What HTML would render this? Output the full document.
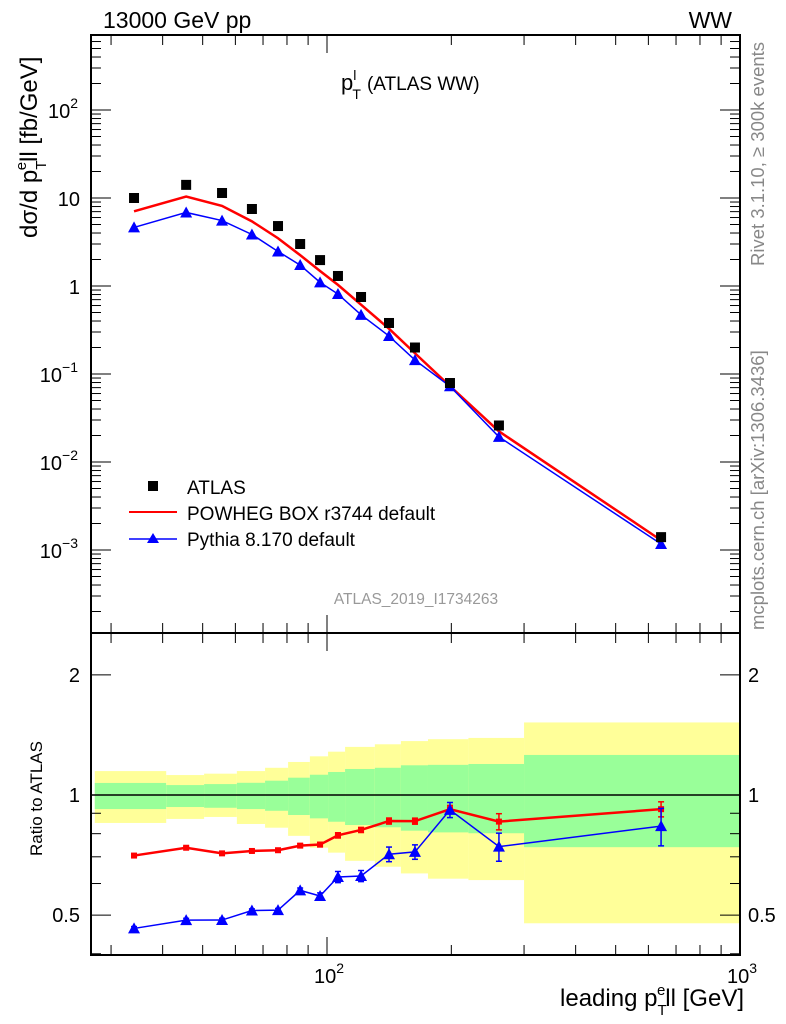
<!DOCTYPE html>
<html><head><meta charset="utf-8"><style>
body{margin:0;background:#fff;}
svg{display:block;font-family:"Liberation Sans",sans-serif;}
</style></head><body>
<svg id="chart" width="786" height="1024" viewBox="0 0 786 1024" xmlns="http://www.w3.org/2000/svg">
<g id="bands"></g>
<g id="ticks"></g>
<g id="series"></g>
<rect x="91" y="35" width="649" height="598" fill="none" stroke="#000" stroke-width="2"/>
<rect x="91" y="633" width="649" height="322" fill="none" stroke="#000" stroke-width="2"/>
<text x="103" y="28" font-size="23">13000 GeV pp</text>
<text x="732" y="28" font-size="23" text-anchor="end">WW</text>
<text x="341" y="90" font-size="22">p<tspan font-size="14" dy="-10">l</tspan><tspan font-size="14" dx="-4" dy="19">T</tspan><tspan font-size="19" dy="-9" dx="6">(ATLAS WW)</tspan></text>
<text transform="translate(37,238) rotate(-90)" font-size="24">dσ/d p<tspan font-size="15" dy="9">T</tspan><tspan font-size="15" dy="-20" dx="-8">e</tspan><tspan dy="11">ll [fb/GeV]</tspan></text>
<text transform="translate(42,856) rotate(-90)" font-size="17">Ratio to ATLAS</text>
<text x="744" y="1006" font-size="24" text-anchor="end">leading p<tspan font-size="15" dy="9">T</tspan><tspan font-size="15" dy="-20" dx="-8">e</tspan><tspan dy="11">ll [GeV]</tspan></text>
<text transform="translate(764,266) rotate(-90)" font-size="18.5" fill="#888">Rivet 3.1.10, ≥ 300k events</text>
<text transform="translate(764,630) rotate(-90)" font-size="18.5" fill="#888">mcplots.cern.ch [arXiv:1306.3436]</text>
<text x="416" y="604" font-size="15.5" fill="#999" text-anchor="middle">ATLAS_2019_I1734263</text>
<g>
<rect x="148" y="481" width="10" height="10" fill="#000"/>
<text x="187" y="494" font-size="19">ATLAS</text>
<line x1="129" y1="512" x2="177" y2="512" stroke="#f00" stroke-width="2"/>
<text x="187" y="520" font-size="19">POWHEG BOX r3744 default</text>
<line x1="129" y1="539" x2="177" y2="539" stroke="#00f" stroke-width="1.5"/>
<polygon points="153,533 159,543 147,543" fill="#00f"/>
<text x="187" y="546" font-size="19">Pythia 8.170 default</text>
</g>
</svg>
<script>
const xCenters=[34.1,45.6,55.7,65.8,76.1,86.1,96.2,106.3,120.9,141.3,163.3,198.5,260.8,644];
const binEdges=[27.4,40.8,50.4,60.5,70.8,80.5,90.9,100.6,110.6,130.6,151,175.6,220,300,1000];
const atlas=[10,14.1,11.4,7.5,4.8,3.0,1.97,1.3,0.75,0.38,0.2,0.079,0.026,0.0014];
const powheg=[7.05,10.4,8.14,5.43,3.49,2.24,1.48,1.03,0.613,0.327,0.172,0.0728,0.0223,0.00129];
const pythia=[4.63,6.85,5.54,3.85,2.47,1.73,1.10,0.81,0.47,0.27,0.144,0.0725,0.0193,0.00117];
const powhegErr=[0.005,0.005,0.005,0.005,0.005,0.008,0.01,0.012,0.012,0.015,0.015,0.02,0.04,0.04];
const pythiaErr=[0.005,0.005,0.005,0.005,0.005,0.008,0.01,0.02,0.02,0.03,0.03,0.04,0.06,0.09];
const yellowHi=[1.148,1.122,1.131,1.148,1.17,1.21,1.25,1.284,1.32,1.34,1.365,1.38,1.39,1.52];
const yellowLo=[0.851,0.871,0.881,0.846,0.828,0.79,0.738,0.717,0.684,0.661,0.636,0.617,0.612,0.477];
const greenHi=[1.072,1.059,1.065,1.073,1.086,1.105,1.124,1.142,1.162,1.17,1.187,1.19,1.196,1.26];
const greenLo=[0.922,0.933,0.929,0.922,0.913,0.891,0.874,0.857,0.841,0.83,0.814,0.806,0.802,0.74];
const NS="http://www.w3.org/2000/svg";
const X=v=>327+413*(Math.log10(v)-2);
const Y=v=>286-88*Math.log10(v);
const R=v=>795-399*Math.log10(v);
function mk(parent,tag,attrs){const e=document.createElementNS(NS,tag);for(const k in attrs)e.setAttribute(k,attrs[k]);parent.appendChild(e);return e;}
const bands=document.getElementById('bands'),ticks=document.getElementById('ticks'),series=document.getElementById('series');
for(let i=0;i<yellowHi.length;i++){
  const x0=Math.max(X(binEdges[i]),92),x1=Math.min(X(binEdges[i+1]),739);
  const y=mk(bands,'rect',{x:x0,y:R(yellowHi[i]),width:x1-x0,height:R(yellowLo[i])-R(yellowHi[i]),fill:'#ffff99'});
  
  
  const g=mk(bands,'rect',{x:x0,y:R(greenHi[i]),width:x1-x0,height:R(greenLo[i])-R(greenHi[i]),fill:'#99ff99'});
  
  
}
const one=mk(bands,'line',{x1:91,x2:740,y1:R(1),y2:R(1),stroke:'#000','stroke-width':1.5});


const xt=[30,40,50,60,70,80,90,100,200,300,400,500,600,700,800,900,1000];
xt.forEach(v=>{const x=X(v),big=(v===100||v===1000)?18:10;
 [[35,35+big],[633,633-big],[633,633+big],[955,955-big]].forEach(p=>{const l=mk(ticks,'line',{x1:x,x2:x,y1:p[0],y2:p[1],stroke:'#000','stroke-width':1});});});
[[100,'10','2'],[1000,'10','3']].forEach(t=>{const e=mk(ticks,'text',{x:X(t[0])+2,y:983,'font-size':20,'text-anchor':'middle'});e.textContent=t[1];const s=mk(e,'tspan',{'font-size':14,dy:-10});s.textContent=t[2];});
for(let d=-4;d<=2;d++){for(let m=1;m<=9;m++){const v=m*Math.pow(10,d);const y=Y(v);if(y<36||y>632)continue;const len=m===1?20:10;
 [[91,91+len],[740,740-len]].forEach(p=>{const l=mk(ticks,'line',{x1:p[0],x2:p[1],y1:y,y2:y,stroke:'#000','stroke-width':1});});}}
[[100,'10','2'],[10,'10',''],[1,'1',''],[0.1,'10','−1'],[0.01,'10','−2'],[0.001,'10','−3']].forEach(t=>{const e=mk(ticks,'text',{x:t[2]?78:80,y:Y(t[0])+8,'font-size':20,'text-anchor':'end'});e.textContent=t[1];if(t[2]){const s=mk(e,'tspan',{'font-size':14,dy:-10});s.textContent=t[2];}});
[0.4,0.5,0.6,0.7,0.8,0.9,1,2].forEach(v=>{const y=R(v);const len=(v===1||v===2||v===0.5)?20:10;
 [[91,91+len],[740,740-len]].forEach(p=>{const l=mk(ticks,'line',{x1:p[0],x2:p[1],y1:y,y2:y,stroke:'#000','stroke-width':1});});});
[[2,'2'],[1,'1'],[0.5,'0.5']].forEach(t=>{[[80,'end'],[748,'start']].forEach(p=>{const e=mk(ticks,'text',{x:p[0],y:R(t[0])+7,'font-size':20,'text-anchor':p[1]});e.textContent=t[1];});});
function pts(arr,fn){return arr.map((v,i)=>X(xCenters[i])+','+fn(v,i)).join(' ');}
const pl=mk(series,'polyline',{points:pts(powheg,v=>Y(v)),fill:'none',stroke:'#f00','stroke-width':2.5});

const py=mk(series,'polyline',{points:pts(pythia,v=>Y(v)),fill:'none',stroke:'#00f','stroke-width':1.5});

function tri(x,y,c){const t=mk(series,'polygon',{points:`${x},${y-6} ${x+6},${y+5} ${x-6},${y+5}`,fill:c});return t;}
pythia.forEach((v,i)=>{const t=tri(X(xCenters[i]),Y(v),'#00f');});
atlas.forEach((v,i)=>{const r=mk(series,'rect',{x:X(xCenters[i])-5,y:Y(v)-5,width:10,height:10,fill:'#000'});});
const rp=mk(series,'polyline',{points:pts(powheg,(v,i)=>R(v/atlas[i])),fill:'none',stroke:'#f00','stroke-width':2.5});

const ry=mk(series,'polyline',{points:pts(pythia,(v,i)=>R(v/atlas[i])),fill:'none',stroke:'#00f','stroke-width':1.5});

function err(x,r,e,c){const y1=R(r+e),y2=R(r-e);mk(series,'line',{x1:x,x2:x,y1:y1,y2:y2,stroke:c,'stroke-width':1.5});mk(series,'line',{x1:x-3,x2:x+3,y1:y1,y2:y1,stroke:c,'stroke-width':1.5});mk(series,'line',{x1:x-3,x2:x+3,y1:y2,y2:y2,stroke:c,'stroke-width':1.5});}
powheg.forEach((v,i)=>{const x=X(xCenters[i]),r=v/atlas[i];err(x,r,powhegErr[i],'#f00');const m=mk(series,'rect',{x:x-3,y:R(r)-3,width:6,height:6,fill:'#f00'});});
pythia.forEach((v,i)=>{const x=X(xCenters[i]),r=v/atlas[i];err(x,r,pythiaErr[i],'#00f');const t=tri(x,R(r),'#00f');});
</script>
</body></html>
